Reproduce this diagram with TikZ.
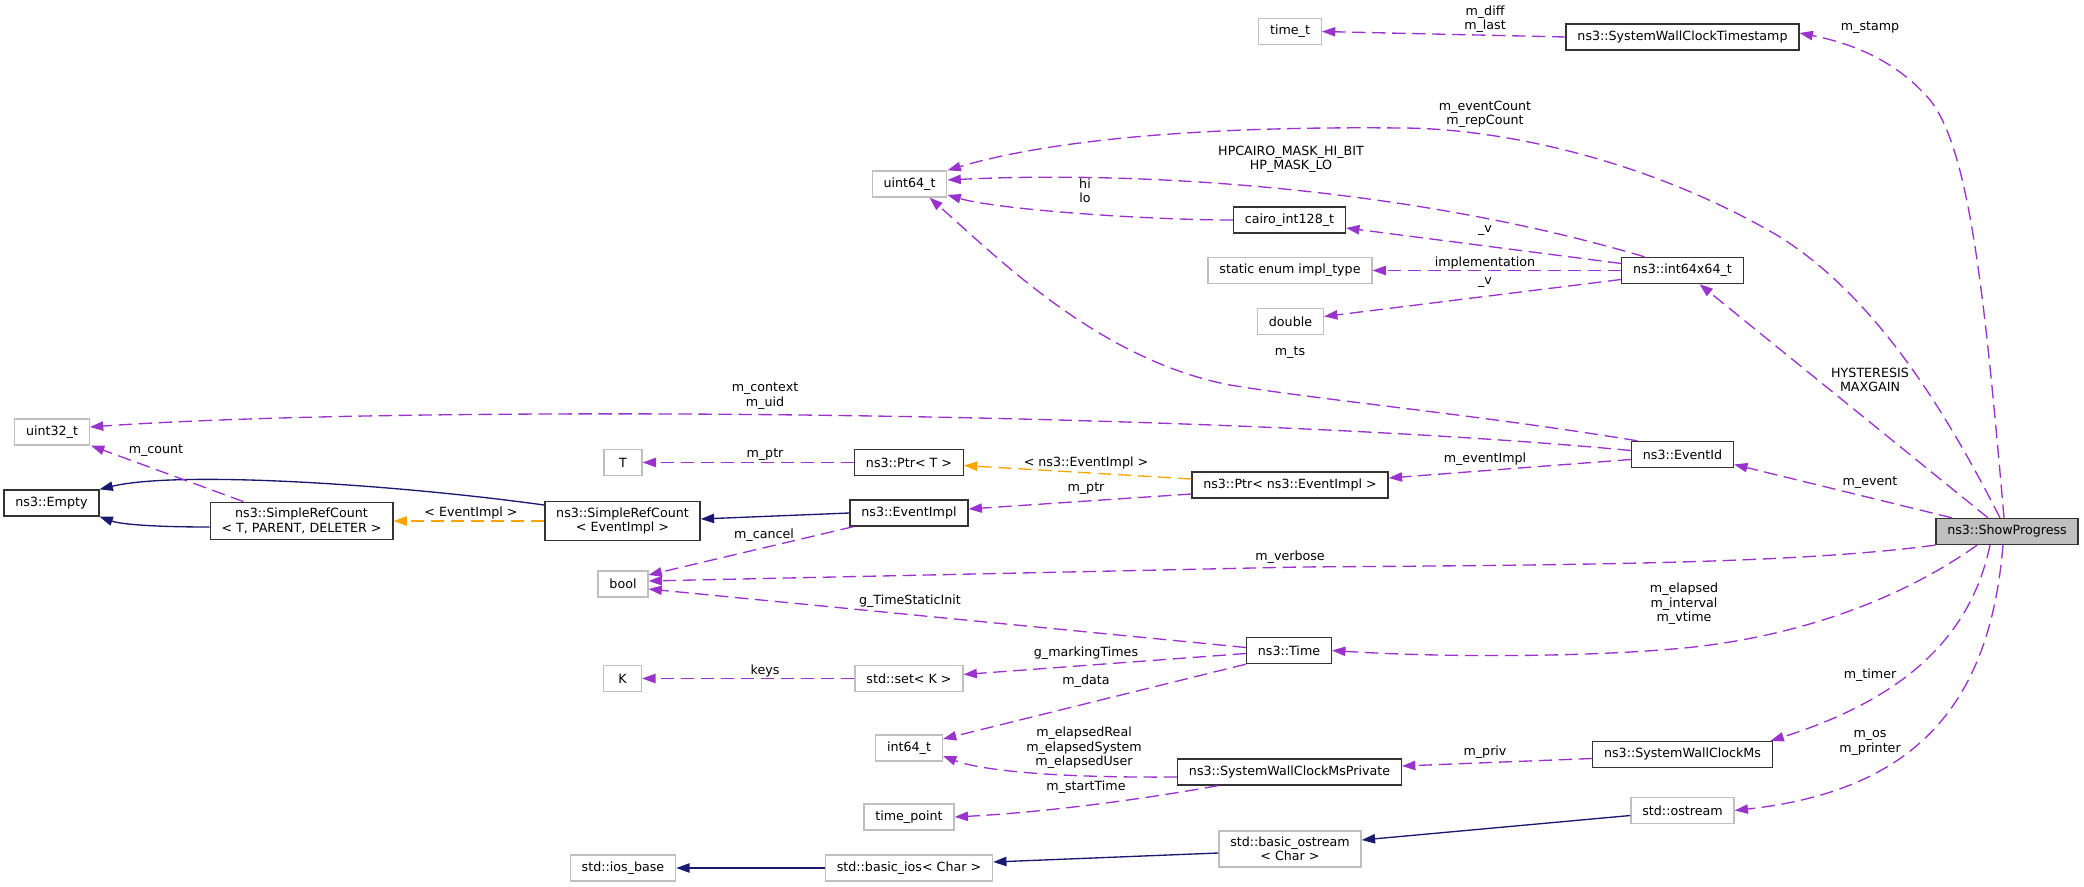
\documentclass[tikz,border=0pt]{standalone}
\usepackage{fontspec}
\setmainfont{DejaVu Sans}
\usepackage{xcolor}
\usepackage{tikz}
\usetikzlibrary{arrows.meta}
\definecolor{dxpurple}{HTML}{9A32CD}
\definecolor{dxorange}{HTML}{FFA500}
\definecolor{dxnavy}{HTML}{191970}
\definecolor{dxgrey}{HTML}{BFBFBF}

\begin{document}
\begin{tikzpicture}[x=0.75pt, y=-0.75pt, font=\fontsize{9.5}{10.75}\selectfont,
    main/.style = {draw=black!80, line width=1pt, fill=white, minimum height=19.5pt, minimum width=28.5pt, inner xsep=8.5pt, inner ysep=4.5pt, align=center},
    ext/.style = {main, draw=dxgrey},
    mem/.style = {draw=dxpurple, line width=1pt, dash pattern=on 10pt off 5pt, -{Triangle[length=10pt,width=7pt]}},
    tpl/.style = {mem, draw=dxorange},
    inh/.style = {draw=dxnavy, line width=1pt, -{Triangle[length=10pt,width=7pt]}},
    lbl/.style = {align=center, inner sep=0pt}]
    \useasboundingbox (0,0) rectangle (2084,887);

    \node[ext] (1) at (1290,31.5) {time\_t};
    \node[main] (2) at (1682.5,37) {ns3::SystemWallClockTimestamp};
    \node[ext] (3) at (909.5,184) {uint64\_t};
    \node[main] (4) at (1289.5,220) {cairo\_int128\_t};
    \node[ext] (5) at (1290,270.5) {static enum impl\_type};
    \node[main] (6) at (1682.5,270.5) {ns3::int64x64\_t};
    \node[ext] (7) at (1290.5,321.5) {double};
    \node[ext] (8) at (52,432) {uint32\_t};
    \node[main] (9) at (51.5,503) {ns3::Empty};
    \node[main] (10) at (301.5,521) {ns3::SimpleRefCount\\< T, PARENT, DELETER >};
    \node[ext] (11) at (623,462.5) {T};
    \node[main] (12) at (622.5,521) {ns3::SimpleRefCount\\< EventImpl >};
    \node[main] (13) at (909,462.5) {ns3::Ptr< T >};
    \node[main] (14) at (909,513) {ns3::EventImpl};
    \node[main] (15) at (1290,485) {ns3::Ptr< ns3::EventImpl >};
    \node[main] (16) at (1682.5,454.5) {ns3::EventId};
    \node[main, fill=dxgrey] (17) at (2007,531.5) {ns3::ShowProgress};
    \node[ext] (18) at (623,584) {bool};
    \node[main] (19) at (1289,650.5) {ns3::Time};
    \node[ext] (20) at (622.5,678.5) {K};
    \node[ext] (21) at (909,678.5) {std::set< K >};
    \node[ext] (22) at (909,748) {int64\_t};
    \node[main] (23) at (1289.5,772) {ns3::SystemWallClockMsPrivate};
    \node[main] (24) at (1682.5,754.5) {ns3::SystemWallClockMs};
    \node[ext] (25) at (909,817) {time\_point};
    \node[ext] (26) at (1682.5,810.5) {std::ostream};
    \node[ext] (27) at (1290,849) {std::basic\_ostream\\< Char >};
    \node[ext] (28) at (909,868) {std::basic\_ios< Char >};
    \node[ext] (29) at (623,868) {std::ios\_base};

    % members of ns3::ShowProgress
    \draw[mem] ([shift={(-3,0)}]17.north) .. controls (1985,300) and (1970,150) .. (1930,100) .. controls (1900,65) and (1860,45) .. ([shift={(0,-4)}]2.east) node[lbl] at (1870,28) {m\_stamp};
    \draw[mem] ([shift={(-7,0)}]17.north) .. controls (1950,420) and (1880,300) .. (1780,237) .. controls (1650,160) and (1500,128) .. (1400,128) .. controls (1200,126) and (1050,140) .. (3.north east) node[lbl] at (1485,114) {m\_eventCount\\m\_repCount};
    \draw[mem] ([shift={(-19,0)}]17.north) -- ([shift={(17,0)}]6.south) node[lbl] at (1870,380) {HYSTERESIS\\MAXGAIN};
    \draw[mem] ([shift={(-55,0)}]17.north) -- ([shift={(0,10)}]16.east) node[lbl] at (1870,483) {m\_event};
    \draw[mem] (17.south west) .. controls (1800,563) and (1600,565) .. (1300,567) -- ([shift={(0,-3)}]18.east) node[lbl] at (1290,557) {m\_verbose};
    \draw[mem] ([shift={(-30,0)}]17.south) .. controls (1900,600) and (1800,635) .. (1694,647) .. controls (1600,657) and (1450,658) .. (19.east) node[lbl] at (1684,604) {m\_elapsed\\m\_interval\\m\_vtime};
    \draw[mem] ([shift={(-17,0)}]17.south) .. controls (1970,640) and (1900,700) .. ([shift={(88,0)}]24.north) node[lbl] at (1870,675) {m\_timer};
    \draw[mem] ([shift={(-4,0)}]17.south) .. controls (1990,700) and (1920,790) .. (26.east) node[lbl] at (1870,743) {m\_os\\m\_printer};

    \draw[mem] (2.west) -- (1.east) node[lbl] at (1485,19) {m\_diff\\m\_last};
    \draw[mem] ([shift={(-38,0)}]6.north) .. controls (1420,190) and (1150,170) .. ([shift={(0,-4)}]3.east) node[lbl] at (1291,159) {HPCAIRO\_MASK\_HI\_BIT\\HP\_MASK\_LO};
    \draw[mem] (4.west) .. controls (1150,220) and (1000,210) .. ([shift={(0,11)}]3.east) node[lbl] at (1085,191) {hi\\lo};
    \draw[mem] ([shift={(0,-7)}]6.west) -- ([shift={(0,8)}]4.east) node[lbl] at (1485,231) {\_v};
    \draw[mem] (6.west) -- (5.east) node[lbl] at (1485,263) {implementation};
    \draw[mem] ([shift={(0,9)}]6.west) -- ([shift={(0,-5)}]7.east) node[lbl] at (1485,283) {\_v};

    \draw[mem] ([shift={(-45,0)}]16.north) .. controls (1480,415) and (1320,400) .. (1230,385) .. controls (1100,360) and (1000,260) .. ([shift={(20,0)}]3.south) node[lbl] at (1290,353) {m\_ts};
    \draw[mem] ([shift={(0,-4)}]16.west) .. controls (1200,410) and (400,405) .. ([shift={(0,-5)}]8.east) node[lbl] at (765,396) {m\_context\\m\_uid};
    \draw[mem] ([shift={(0,5)}]16.west) -- ([shift={(0,-7)}]15.east) node[lbl] at (1485,459) {m\_eventImpl};
    \draw[tpl] ([shift={(0,-6)}]15.west) -- ([shift={(0,3)}]13.east) node[lbl] at (1086,463) {< ns3::EventImpl >};
    \draw[mem] ([shift={(0,9)}]15.west) -- ([shift={(0,-4)}]14.east) node[lbl] at (1086,489) {m\_ptr};
    \draw[mem] (13.west) -- (11.east) node[lbl] at (765,455) {m\_ptr};
    \draw[inh] (14.west) -- ([shift={(0,-2)}]12.east);
    \draw[tpl] (12.west) -- (10.east) node[lbl] at (471,513) {< EventImpl >};
    \draw[inh] ([shift={(0,4)}]12.north west) .. controls (400,485) and (180,470) .. (9.north east);
    \draw[inh] ([shift={(0,6)}]10.west) .. controls (150,527) and (120,524) .. (9.south east);
    \draw[mem] ([shift={(-58,0)}]10.north) -- ([shift={(39,0)}]8.south) node[lbl] at (156,451) {m\_count};
    \draw[mem] ([shift={(4,0)}]14.south west) -- ([shift={(0,-9)}]18.east) node[lbl] at (764,535) {m\_cancel};

    \draw[mem] ([shift={(0,-3)}]19.west) -- ([shift={(0,5)}]18.east) node[lbl] at (910,601) {g\_TimeStaticInit};
    \draw[mem] ([shift={(0,3)}]19.west) -- ([shift={(0,-4)}]21.east) node[lbl] at (1086,653) {g\_markingTimes};
    \draw[mem] (21.west) -- (20.east) node[lbl] at (765,671) {keys};
    \draw[mem] (19.south west) -- ([shift={(0,-9)}]22.east) node[lbl] at (1086,681) {m\_data};
    \draw[mem] ([shift={(0,5)}]23.west) .. controls (1050,778) and (980,770) .. ([shift={(0,8)}]22.east) node[lbl] at (1084,748) {m\_elapsedReal\\m\_elapsedSystem\\m\_elapsedUser};
    \draw[mem] ([shift={(41,0)}]23.south west) .. controls (1150,798) and (1050,812) .. (25.east) node[lbl] at (1086,787) {m\_startTime};
    \draw[mem] ([shift={(0,4)}]24.west) -- ([shift={(0,-6)}]23.east) node[lbl] at (1485,752) {m\_priv};

    \draw[inh] ([shift={(0,5)}]26.west) -- ([shift={(0,-9)}]27.east);
    \draw[inh] ([shift={(0,4)}]27.west) -- ([shift={(0,-6)}]28.east);
    \draw[inh] (28.west) -- (29.east);

\end{tikzpicture}
\end{document}
